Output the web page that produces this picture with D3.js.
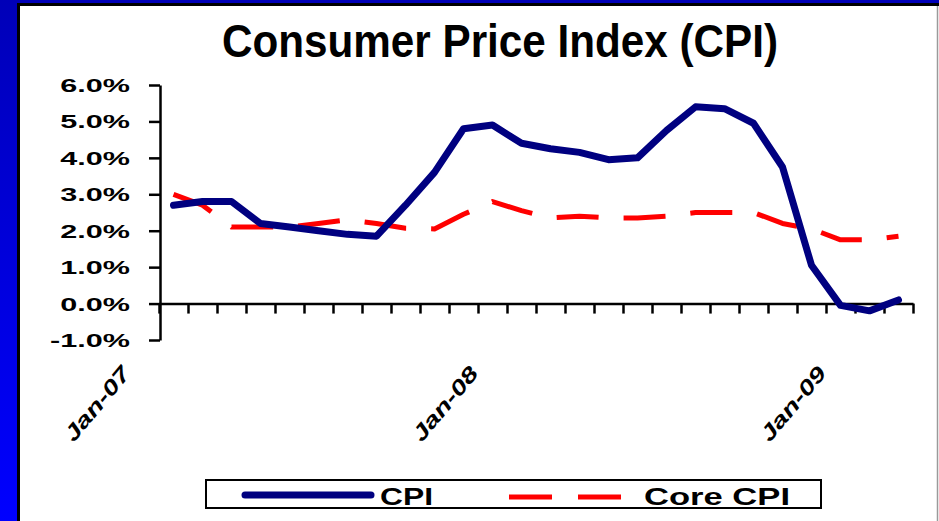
<!DOCTYPE html>
<html>
<head>
<meta charset="utf-8">
<script src="https://cdn.jsdelivr.net/npm/d3@7/dist/d3.min.js"></script>
<style>
  html, body { margin: 0; padding: 0; background: #fff; }
  svg { display: block; }
  text { font-family: "Liberation Sans", Arial, sans-serif; font-weight: bold; }
</style>
</head>
<body>
<svg id="chart" width="939" height="521"></svg>
<script>
// ---- data ----
const months = ["Jan-07","Feb-07","Mar-07","Apr-07","May-07","Jun-07","Jul-07","Aug-07","Sep-07","Oct-07","Nov-07","Dec-07",
                "Jan-08","Feb-08","Mar-08","Apr-08","May-08","Jun-08","Jul-08","Aug-08","Sep-08","Oct-08","Nov-08","Dec-08",
                "Jan-09","Feb-09"];
const cpi = [2.7, 2.8, 2.8, 2.2, 2.1, 2.0, 1.9, 1.85, 2.7, 3.6, 4.8, 4.9,
             4.4, 4.25, 4.15, 3.95, 4.0, 4.75, 5.4, 5.35, 4.95, 3.75, 1.05, -0.05,
             -0.2, 0.1];
const coreCpi = [3.0, 2.7, 2.1, 2.1, 2.1, 2.2, 2.3, 2.2, 2.07, 2.05, 2.45, 2.8,
                 2.55, 2.35, 2.4, 2.35, 2.35, 2.4, 2.5, 2.5, 2.5, 2.2, 2.05, 1.75,
                 1.75, 1.85];
const yTicks = [-1, 0, 1, 2, 3, 4, 5, 6];
const xTickLabels = {0: "Jan-07", 12: "Jan-08", 24: "Jan-09"};
const titleText = "Consumer Price Index (CPI)";
const seriesNames = ["CPI", "Core CPI"];

// ---- frame ----
const svg = d3.select("#chart");
const defs = svg.append("defs");
const grad = defs.append("linearGradient").attr("id", "bg").attr("x1", 0).attr("y1", 0).attr("x2", 0).attr("y2", 1);
grad.append("stop").attr("offset", "0%").attr("stop-color", "#0000B8");
grad.append("stop").attr("offset", "100%").attr("stop-color", "#0000FF");
svg.append("rect").attr("x", 0).attr("y", 0).attr("width", 939).attr("height", 521).attr("fill", "url(#bg)");
svg.append("rect").attr("x", 17).attr("y", 3).attr("width", 922).attr("height", 518).attr("fill", "#000");
svg.append("rect").attr("x", 20).attr("y", 6).attr("width", 919).attr("height", 515).attr("fill", "#fff");
svg.append("line").attr("x1", 937.5).attr("x2", 937.5).attr("y1", 6).attr("y2", 521)
   .attr("stroke", "#9a9a9a").attr("stroke-width", 1.5);

// ---- title ----
svg.append("text").attr("x", 500).attr("y", 57).attr("text-anchor", "middle")
   .attr("font-size", 46).attr("textLength", 556).attr("lengthAdjust", "spacingAndGlyphs")
   .attr("fill", "#000").text(titleText);

// ---- scales ----
const x = d3.scaleLinear().domain([0, months.length]).range([159, 913]);
const y = d3.scaleLinear().domain([-1, 6]).range([340, 85]);
const px = i => x(i + 0.5);

// ---- y axis ----
const yAxis = svg.append("g").attr("transform", "translate(160,0)")
  .call(d3.axisLeft(y).tickValues(yTicks).tickSize(11).tickSizeOuter(0)
        .tickFormat(d => d3.format(".1%")(d / 100).replace("\u2212", "-")));
yAxis.select(".domain").attr("stroke", "#000").attr("stroke-width", 2.5);
yAxis.selectAll(".tick line").attr("stroke", "#000").attr("stroke-width", 2.5);
yAxis.selectAll(".tick text")
  .attr("x", null).attr("dy", "0.36em")
  .attr("transform", "translate(-30,0) scale(1.7,1)")
  .attr("font-size", 18).attr("font-family", "'Liberation Sans', Arial, sans-serif")
  .attr("font-weight", "bold").attr("fill", "#000").attr("text-anchor", "end");

// ---- x axis ----
const xAxis = svg.append("g").attr("transform", `translate(0,${y(0)})`)
  .call(d3.axisBottom(x).tickValues(d3.range(months.length + 1)).tickSize(10).tickSizeOuter(0)
        .tickFormat(d => xTickLabels[d] || ""));
xAxis.select(".domain").attr("stroke", "#000").attr("stroke-width", 2.5);
xAxis.selectAll(".tick line").attr("stroke", "#000").attr("stroke-width", 2.5);
xAxis.selectAll(".tick text")
  .attr("y", null).attr("dy", null)
  .attr("transform", `translate(-28,${374 - y(0)}) rotate(-50)`)
  .attr("text-anchor", "end")
  .attr("font-size", 21).attr("font-style", "italic")
  .attr("font-family", "'Liberation Sans', Arial, sans-serif")
  .attr("font-weight", "bold").attr("fill", "#000")
  .each(function(d) { if (xTickLabels[d]) d3.select(this).attr("textLength", 90).attr("lengthAdjust", "spacingAndGlyphs"); });

// ---- lines ----
const line = d3.line().x((d, i) => px(i)).y(d => y(d));
svg.append("path").datum(coreCpi).attr("d", line)
   .attr("fill", "none").attr("stroke", "#FF0000").attr("stroke-width", 5)
   .attr("stroke-dasharray", "42,25").attr("stroke-linejoin", "round");
svg.append("path").datum(cpi).attr("d", line)
   .attr("fill", "none").attr("stroke", "#000080").attr("stroke-width", 7)
   .attr("stroke-linejoin", "round").attr("stroke-linecap", "round");

// ---- legend ----
const lg = svg.append("g");
lg.append("rect").attr("x", 206).attr("y", 480).attr("width", 615).attr("height", 28)
  .attr("fill", "#fff").attr("stroke", "#000").attr("stroke-width", 2);
lg.append("line").attr("x1", 245).attr("x2", 371).attr("y1", 495).attr("y2", 495)
  .attr("stroke", "#000080").attr("stroke-width", 7).attr("stroke-linecap", "round");
lg.append("text").attr("x", 380).attr("y", 505).attr("font-size", 23)
  .attr("textLength", 53).attr("lengthAdjust", "spacingAndGlyphs").text(seriesNames[0]);
lg.append("line").attr("x1", 509).attr("x2", 621).attr("y1", 497).attr("y2", 497)
  .attr("stroke", "#FF0000").attr("stroke-width", 5).attr("stroke-dasharray", "43,26");
lg.append("text").attr("x", 644).attr("y", 505).attr("font-size", 23)
  .attr("textLength", 146).attr("lengthAdjust", "spacingAndGlyphs").text(seriesNames[1]);
</script>
</body>
</html>
